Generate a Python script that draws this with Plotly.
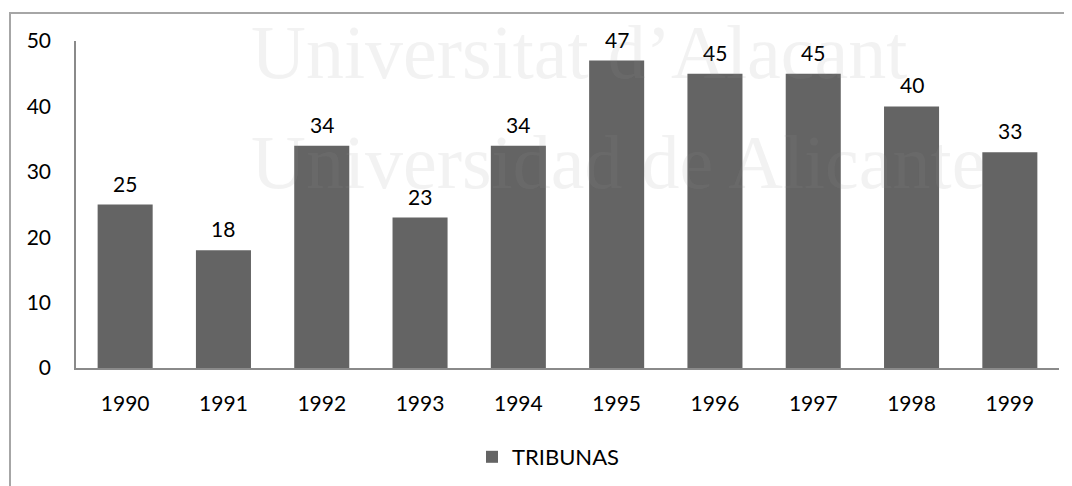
import plotly.graph_objects as go

years = ["1990", "1991", "1992", "1993", "1994", "1995", "1996", "1997", "1998", "1999"]
tribunas = [25, 18, 34, 23, 34, 47, 45, 45, 40, 33]
series_name = "TRIBUNAS"
y_ticks = [0, 10, 20, 30, 40, 50]
watermark_lines = ["Universitat d\u2019Alacant", "Universidad de Alicante"]

OFF = 8  # page body margin
W, H = 1072 - OFF, 486 - OFF
L = 76 - OFF
T = 41 - OFF
PLOT_BOTTOM = 368 - OFF
PLOT_RIGHT = 1059 - OFF
B = H - PLOT_BOTTOM
R = W - PLOT_RIGHT
pw = W - L - R
ph = H - T - B

def px_x(x):
    # reference page pixel -> paper coordinate
    return (x - OFF - L) / pw

def px_y(y):
    return (PLOT_BOTTOM - (y - OFF)) / ph

font_family = "Lato, Open Sans, sans-serif"

fig = go.Figure()
fig.add_trace(go.Bar(
    x=years, y=tribunas, name=series_name,
    marker=dict(color="#646464", line=dict(width=0)),
    width=0.56,
    cliponaxis=False,
))

# value labels: category axis positions are the category indices
for i, v in enumerate(tribunas):
    fig.add_annotation(x=i, y=v, text=str(v), showarrow=False, xref="x", yref="y",
                       yanchor="bottom", yshift=7,
                       font=dict(size=21, color="#000000", family=font_family))

fig.update_layout(
    width=W, height=H,
    margin=dict(l=L, r=R, t=T, b=B, autoexpand=False),
    paper_bgcolor="white", plot_bgcolor="white",
    font=dict(family=font_family, size=21, color="#000000"),
    showlegend=True,
    legend=dict(orientation="h", x=px_x(548), y=px_y(457), xanchor="center", yanchor="middle",
                font=dict(size=22, color="#000000", family=font_family),
                itemsizing="constant"),
    xaxis=dict(type="category", range=[-0.5, len(years) - 0.5], showline=True, linecolor="#8a8a8a",
               linewidth=2, showgrid=False, automargin=False, ticks="", ticklabelstandoff=16,
               tickfont=dict(size=21)),
    yaxis=dict(range=[0, 50], tickvals=y_ticks, showline=True, linecolor="#8a8a8a", linewidth=1.5,
               showgrid=False, zeroline=False, ticks="", ticklabelstandoff=19, automargin=False,
               tickfont=dict(size=21)),
)

# outer border
fig.add_shape(type="rect", xref="paper", yref="paper",
              x0=px_x(10), x1=px_x(1085), y0=px_y(500), y1=px_y(13),
              line=dict(color="#a6a6a6", width=2), fillcolor="rgba(0,0,0,0)", layer="below")

# watermark
for txt, ybot in zip(watermark_lines, [96, 206]):
    fig.add_annotation(text=txt, xref="paper", yref="paper", x=px_x(249), y=px_y(ybot),
                       xanchor="left", yanchor="bottom", showarrow=False,
                       font=dict(family="Liberation Serif, serif", size=76, color="rgba(150,150,150,0.12)"))

fig.write_html("out.html")
